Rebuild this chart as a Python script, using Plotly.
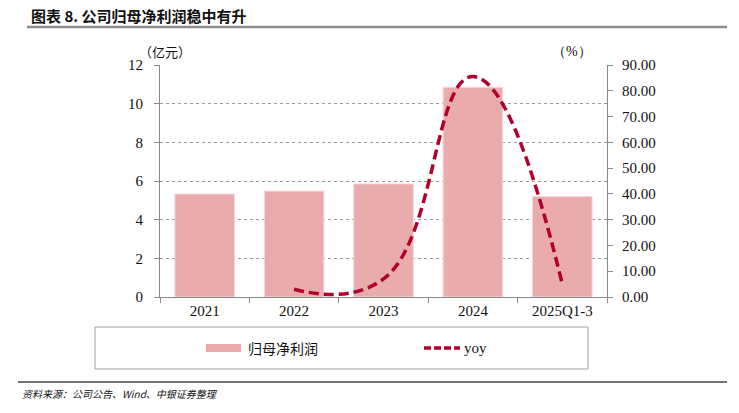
import plotly.graph_objects as go

categories = ["2021", "2022", "2023", "2024", "2025Q1-3"]
profit = [5.33, 5.48, 5.85, 10.85, 5.20]
yoy_cats = ["2022", "2023", "2024", "2025Q1-3"]
yoy = [3.0, 7.0, 85.5, 5.0]

W, H = 739, 413
L, R, T, B = 160, 607, 65, 297
pw, ph = R - L, B - T

def px(x):
    return (x - L) / pw

def py(y):
    return (B - y) / ph

serif = "Liberation Serif, Times New Roman, serif"
cjk = "Noto Sans CJK SC, Noto Sans, sans-serif"
bar_color = "#E9ABAB"
line_color = "#B0002A"

fig = go.Figure()
fig.add_trace(go.Bar(
    x=categories, y=profit, name="归母净利润",
    marker=dict(color=bar_color, line=dict(color="#F6DADA", width=1)),
    showlegend=False,
))
fig.add_trace(go.Scatter(
    x=yoy_cats, y=yoy, name="yoy", yaxis="y2", mode="lines",
    line=dict(color=line_color, width=3.5, dash="10px,5px", shape="spline", smoothing=1.3),
    cliponaxis=False, showlegend=False,
))

fig.update_layout(
    width=W, height=H,
    margin=dict(l=L, r=W - R, t=T, b=H - B),
    paper_bgcolor="white", plot_bgcolor="white",
    bargap=0.333,
    font=dict(family=serif, size=15, color="#111"),
    xaxis=dict(
        type="category", showline=True, linecolor="#888", linewidth=1,
        ticks="outside", ticklen=5, tickcolor="#888", tickson="boundaries",
        showgrid=False, tickfont=dict(family=serif, size=15), range=[-0.5, 4.5],
    ),
    yaxis=dict(
        range=[0, 12], dtick=2, showline=True, linecolor="#888", linewidth=1,
        ticks="outside", ticklen=5, tickcolor="#888",
        showgrid=True, gridcolor="#9a9a9a", griddash="dot", gridwidth=1,
        zeroline=False, tickfont=dict(family=serif, size=15), ticklabelstandoff=8,
    ),
    yaxis2=dict(
        range=[0, 90], dtick=10, overlaying="y", side="right",
        showline=True, linecolor="#888", linewidth=1,
        ticks="outside", ticklen=5, tickcolor="#888",
        showgrid=False, zeroline=False, tickformat=".2f",
        tickfont=dict(family=serif, size=15), ticklabelstandoff=6,
    ),
)

shapes = []
annotations = []

# title underline
shapes.append(dict(type="line", xref="paper", yref="paper",
                   x0=px(27), x1=px(727), y0=py(27), y1=py(27),
                   line=dict(color="#8c8c8c", width=2.5)))
# bottom rule
shapes.append(dict(type="line", xref="paper", yref="paper",
                   x0=px(18), x1=px(727), y0=py(382), y1=py(382),
                   line=dict(color="#444", width=1.5)))
# legend box
shapes.append(dict(type="rect", xref="paper", yref="paper",
                   x0=px(95), x1=px(588), y0=py(327), y1=py(369),
                   line=dict(color="#a0a0a0", width=1), fillcolor="rgba(0,0,0,0)"))
# legend swatch bar
shapes.append(dict(type="rect", xref="paper", yref="paper",
                   x0=px(206), x1=px(241), y0=py(344), y1=py(352),
                   line=dict(width=0), fillcolor=bar_color))
# legend swatch line
shapes.append(dict(type="line", xref="paper", yref="paper",
                   x0=px(424), x1=px(460), y0=py(348), y1=py(348),
                   line=dict(color=line_color, width=3.5, dash="7px,3px")))

annotations.append(dict(text="<b>图表 8. 公司归母净利润稳中有升</b>", xref="paper", yref="paper",
                        x=px(29), y=py(15), xanchor="left", yanchor="middle", showarrow=False,
                        font=dict(family=cjk, size=15, color="#111")))
annotations.append(dict(text="（亿元）", xref="paper", yref="paper",
                        x=px(137), y=py(52), xanchor="left", yanchor="middle", showarrow=False,
                        font=dict(family=cjk, size=13, color="#111")))
annotations.append(dict(text="（%）", xref="paper", yref="paper",
                        x=px(572), y=py(51), xanchor="center", yanchor="middle", showarrow=False,
                        font=dict(family=serif, size=14, color="#111")))
annotations.append(dict(text="归母净利润", xref="paper", yref="paper",
                        x=px(246), y=py(348), xanchor="left", yanchor="middle", showarrow=False,
                        font=dict(family=cjk, size=14, color="#111")))
annotations.append(dict(text="yoy", xref="paper", yref="paper",
                        x=px(462), y=py(348), xanchor="left", yanchor="middle", showarrow=False,
                        font=dict(family=serif, size=15, color="#111")))
annotations.append(dict(text="<i>资料来源：公司公告、Wind、中银证券整理</i>", xref="paper", yref="paper",
                        x=px(20), y=py(393), xanchor="left", yanchor="middle", showarrow=False,
                        font=dict(family=cjk, size=10, color="#111")))

fig.update_layout(shapes=shapes, annotations=annotations)
fig.write_html("out.html", config={"displayModeBar": False},
               post_script="document.body.style.margin='0';document.body.style.padding='0';document.body.style.overflow='hidden';")
